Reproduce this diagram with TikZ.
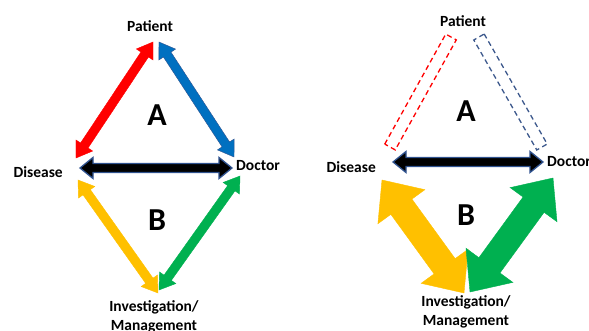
\documentclass[tikz,border=0pt]{standalone}
\usepackage{fontspec}
\setmainfont{Carlito}
\usetikzlibrary{calc}

\definecolor{arrRed}{RGB}{255,0,0}
\definecolor{arrBlue}{RGB}{0,112,192}
\definecolor{arrYellow}{RGB}{255,192,0}
\definecolor{arrGreen}{RGB}{0,176,80}
\definecolor{rimBlue}{RGB}{47,82,143}
\definecolor{dashBlue}{RGB}{60,88,140}

% double headed block arrow: style, from, to, half shaft, half head, head length
\newcommand{\dblarrow}[6]{%
  \draw[#1] (#2)
    -- ($(#2)!#6!(#3)!#5!90:(#3)$)
    -- ($(#2)!#6!(#3)!#4!90:(#3)$)
    -- ($(#3)!#6!(#2)!#4!-90:(#2)$)
    -- ($(#3)!#6!(#2)!#5!-90:(#2)$)
    -- (#3)
    -- ($(#3)!#6!(#2)!#5!90:(#2)$)
    -- ($(#3)!#6!(#2)!#4!90:(#2)$)
    -- ($(#2)!#6!(#3)!#4!-90:(#3)$)
    -- ($(#2)!#6!(#3)!#5!-90:(#3)$)
    -- cycle;}
% straight band with no heads: style, from, to, half width
\newcommand{\band}[4]{%
  \draw[#1] ($(#2)!#4!90:(#3)$) -- ($(#3)!#4!-90:(#2)$)
    -- ($(#3)!#4!90:(#2)$) -- ($(#2)!#4!-90:(#3)$) -- cycle;}

\begin{document}
\begin{tikzpicture}[
    x=1pt, y=-1pt,
    lbl/.style={font=\fontsize{15.5}{19}\selectfont\bfseries, inner sep=0pt},
    big/.style={font=\fontsize{32}{34}\selectfont\bfseries, inner sep=0pt},
    solid arr/.style={line join=miter, line width=0.4pt},
    ghost/.style={dashed, dash pattern=on 5pt off 3.5pt, line width=1.3pt},
  ]
  \useasboundingbox (0,0) rectangle (589,331);
  \clip (0,0) rectangle (589,331);

  % left: all four links in place
  \node[lbl] (L-pat) at (150,26) {Patient};
  \node[lbl, anchor=east] (L-dis) at (63,172) {Disease};
  \node[lbl, anchor=west] (L-doc) at (236,166) {Doctor};
  \node[lbl, align=center, anchor=north] (L-inv) at (154,300) {Investigation/\\Management};
  \node[big] (L-A) at (157,115) {A};
  \node[big] (L-B) at (157,220) {B};

  \coordinate (L-red-d) at (76,158);   \coordinate (L-red-p) at (153,42);
  \coordinate (L-blu-p) at (159,42);   \coordinate (L-blu-d) at (234,157);
  \coordinate (L-blk-d) at (80,168);   \coordinate (L-blk-o) at (232,168);
  \coordinate (L-yel-d) at (78,180);   \coordinate (L-yel-i) at (158,293);
  \coordinate (L-grn-o) at (240,176);  \coordinate (L-grn-i) at (159,290);

  \dblarrow{solid arr, fill=arrRed, draw=arrRed}{L-red-d}{L-red-p}{4.5pt}{10pt}{15pt}
  \dblarrow{solid arr, fill=arrBlue, draw=rimBlue}{L-blu-p}{L-blu-d}{4.5pt}{10pt}{15pt}
  \dblarrow{solid arr, fill=black, draw=rimBlue, line width=1.3pt}{L-blk-d}{L-blk-o}{4.5pt}{10.5pt}{13pt}
  \dblarrow{solid arr, fill=arrYellow, draw=arrYellow}{L-yel-d}{L-yel-i}{4.5pt}{10pt}{15pt}
  \dblarrow{solid arr, fill=arrGreen, draw=arrGreen}{L-grn-o}{L-grn-i}{4.5pt}{10pt}{15pt}

  % right: patient links gone, investigation links heavier
  \node[lbl] (R-pat) at (463,21) {Patient};
  \node[lbl, anchor=east] (R-dis) at (376,167) {Disease};
  \node[lbl, anchor=west] (R-doc) at (547,162) {Doctor};
  \node[lbl, align=center, anchor=north] (R-inv) at (466,295) {Investigation/\\Management};
  \node[big] (R-A) at (466,111) {A};
  \node[big] (R-B) at (466,215) {B};

  \coordinate (R-red-d) at (390,147);  \coordinate (R-red-p) at (451,37);
  \coordinate (R-blu-p) at (479,37);   \coordinate (R-blu-d) at (542,147);
  \coordinate (R-blk-d) at (393,162);  \coordinate (R-blk-o) at (543,162);
  \coordinate (R-yel-d) at (382,180);  \coordinate (R-yel-i) at (464,293);
  \coordinate (R-grn-o) at (553,178);  \coordinate (R-grn-i) at (470,292);

  \band{ghost, draw=arrRed}{R-red-d}{R-red-p}{6pt}
  \band{ghost, draw=dashBlue}{R-blu-p}{R-blu-d}{6pt}
  \dblarrow{solid arr, fill=black, draw=rimBlue, line width=1.3pt}{R-blk-d}{R-blk-o}{4.5pt}{10.5pt}{13pt}
  \dblarrow{solid arr, fill=arrYellow, draw=arrYellow}{R-yel-d}{R-yel-i}{13pt}{29pt}{33pt}
  \dblarrow{solid arr, fill=arrGreen, draw=arrGreen}{R-grn-o}{R-grn-i}{13pt}{29pt}{33pt}
\end{tikzpicture}
\end{document}
